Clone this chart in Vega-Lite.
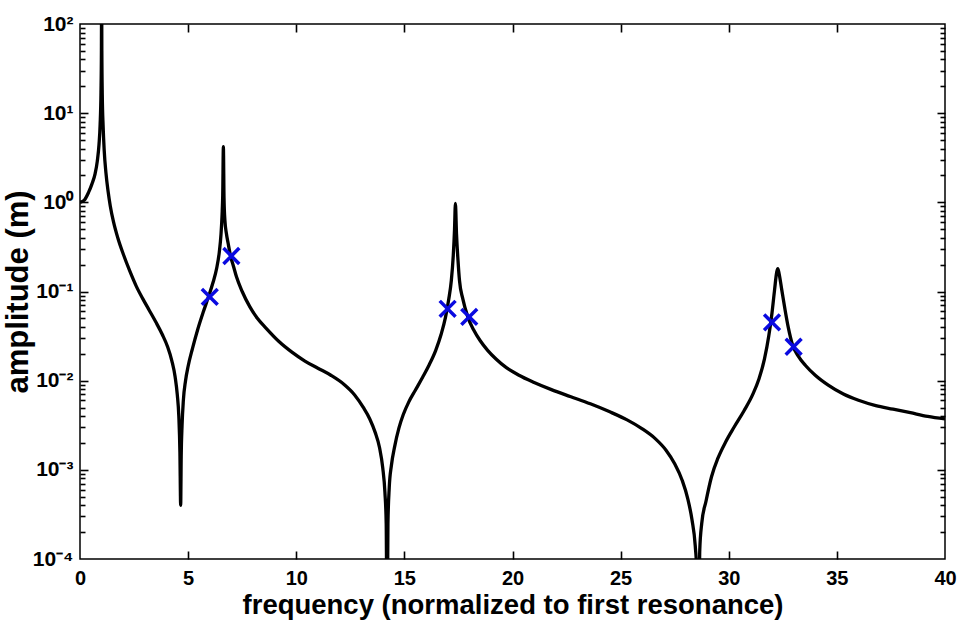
{
  "$schema": "https://vega.github.io/schema/vega-lite/v6.json",
  "width": 865,
  "height": 535,
  "autosize": "none",
  "padding": {"left": 80, "top": 24, "right": 14, "bottom": 68},
  "background": "white",
  "config": {
    "view": {"stroke": "black", "strokeWidth": 1.5},
    "font": "Liberation Sans",
    "axis": {
      "labelFont": "Liberation Sans", "titleFont": "Liberation Sans",
      "labelFontWeight": "bold", "titleFontWeight": "bold",
      "labelColor": "black", "titleColor": "black",
      "tickColor": "black", "tickWidth": 1.6,
      "grid": false, "domain": false
    }
  },
  "datasets": {
    "curve": [
      {"f": 0, "a": 1.0}, {"f": 0.2, "a": 1.06}, {"f": 0.4, "a": 1.3}, {"f": 0.55, "a": 1.6},
      {"f": 0.7, "a": 2.1}, {"f": 0.8, "a": 2.9}, {"f": 0.88, "a": 4.5}, {"f": 0.93, "a": 7.4},
      {"f": 0.97, "a": 17}, {"f": 0.99, "a": 50}, {"f": 1.0, "a": 300}, {"f": 1.01, "a": 50},
      {"f": 1.03, "a": 16}, {"f": 1.07, "a": 7.08}, {"f": 1.12, "a": 3.8}, {"f": 1.2, "a": 2.14},
      {"f": 1.3, "a": 1.32}, {"f": 1.4, "a": 0.912}, {"f": 1.55, "a": 0.603}, {"f": 1.75, "a": 0.398},
      {"f": 2.0, "a": 0.263}, {"f": 2.3, "a": 0.17}, {"f": 2.6, "a": 0.115}, {"f": 2.9, "a": 0.0832},
      {"f": 3.2, "a": 0.0617}, {"f": 3.5, "a": 0.0457}, {"f": 3.8, "a": 0.0331}, {"f": 4.05, "a": 0.024},
      {"f": 4.25, "a": 0.0166}, {"f": 4.4, "a": 0.011}, {"f": 4.5, "a": 0.00692}, {"f": 4.57, "a": 0.00398},
      {"f": 4.62, "a": 0.00158}, {"f": 4.655, "a": 0.0004}, {"f": 4.68, "a": 0.00141}, {"f": 4.72, "a": 0.00316},
      {"f": 4.78, "a": 0.00603}, {"f": 4.88, "a": 0.01}, {"f": 5.0, "a": 0.0145}, {"f": 5.2, "a": 0.0229},
      {"f": 5.45, "a": 0.038}, {"f": 5.7, "a": 0.0589}, {"f": 5.94, "a": 0.0871}, {"f": 6.15, "a": 0.126},
      {"f": 6.32, "a": 0.182}, {"f": 6.44, "a": 0.275}, {"f": 6.52, "a": 0.437}, {"f": 6.57, "a": 0.724},
      {"f": 6.6, "a": 1.2}, {"f": 6.63, "a": 4.2}, {"f": 6.66, "a": 1.12}, {"f": 6.7, "a": 0.631},
      {"f": 6.77, "a": 0.447}, {"f": 6.85, "a": 0.347}, {"f": 6.96, "a": 0.251}, {"f": 7.1, "a": 0.191},
      {"f": 7.24, "a": 0.145}, {"f": 7.5, "a": 0.1}, {"f": 7.85, "a": 0.0676}, {"f": 8.2, "a": 0.0501},
      {"f": 8.6, "a": 0.0389}, {"f": 9.2, "a": 0.0275}, {"f": 9.8, "a": 0.0209}, {"f": 10.4, "a": 0.0166},
      {"f": 11.0, "a": 0.0138}, {"f": 11.6, "a": 0.0115}, {"f": 12.2, "a": 0.00912}, {"f": 12.7, "a": 0.00692},
      {"f": 13.1, "a": 0.00501}, {"f": 13.4, "a": 0.00372}, {"f": 13.65, "a": 0.00263}, {"f": 13.85, "a": 0.00178},
      {"f": 14.0, "a": 0.00105}, {"f": 14.1, "a": 0.00056}, {"f": 14.16, "a": 0.00025}, {"f": 14.2, "a": 0.00001},
      {"f": 14.24, "a": 0.00025}, {"f": 14.3, "a": 0.00063}, {"f": 14.4, "a": 0.00112}, {"f": 14.55, "a": 0.00182},
      {"f": 14.75, "a": 0.00295}, {"f": 14.95, "a": 0.00417}, {"f": 15.2, "a": 0.00575}, {"f": 15.5, "a": 0.00776},
      {"f": 15.85, "a": 0.011}, {"f": 16.15, "a": 0.0151}, {"f": 16.45, "a": 0.0219}, {"f": 16.7, "a": 0.0331},
      {"f": 16.9, "a": 0.0513}, {"f": 17.05, "a": 0.0813}, {"f": 17.17, "a": 0.132}, {"f": 17.26, "a": 0.251},
      {"f": 17.32, "a": 0.501}, {"f": 17.36, "a": 0.97}, {"f": 17.41, "a": 0.447}, {"f": 17.48, "a": 0.224},
      {"f": 17.55, "a": 0.132}, {"f": 17.7, "a": 0.0832}, {"f": 17.94, "a": 0.0513}, {"f": 18.2, "a": 0.0372},
      {"f": 18.5, "a": 0.0282}, {"f": 18.85, "a": 0.0219}, {"f": 19.25, "a": 0.0174}, {"f": 19.7, "a": 0.0141},
      {"f": 20.3, "a": 0.0115}, {"f": 21.0, "a": 0.00955}, {"f": 21.8, "a": 0.00794}, {"f": 22.7, "a": 0.00661},
      {"f": 23.6, "a": 0.0055}, {"f": 24.5, "a": 0.00447}, {"f": 25.3, "a": 0.00363}, {"f": 26.0, "a": 0.00288},
      {"f": 26.6, "a": 0.00224}, {"f": 27.1, "a": 0.00166}, {"f": 27.5, "a": 0.00117}, {"f": 27.85, "a": 0.00076},
      {"f": 28.1, "a": 0.00048}, {"f": 28.3, "a": 0.000275}, {"f": 28.45, "a": 0.000141}, {"f": 28.55, "a": 0.00005},
      {"f": 28.6, "a": 0.00001}, {"f": 28.66, "a": 0.000126}, {"f": 28.75, "a": 0.00025}, {"f": 28.95, "a": 0.000447},
      {"f": 29.2, "a": 0.000832}, {"f": 29.5, "a": 0.00135}, {"f": 29.85, "a": 0.00204}, {"f": 30.25, "a": 0.00302},
      {"f": 30.7, "a": 0.00457}, {"f": 31.1, "a": 0.00692}, {"f": 31.4, "a": 0.0105}, {"f": 31.65, "a": 0.0174},
      {"f": 31.85, "a": 0.0316}, {"f": 32.0, "a": 0.0575}, {"f": 32.12, "a": 0.105}, {"f": 32.22, "a": 0.166},
      {"f": 32.27, "a": 0.18}, {"f": 32.33, "a": 0.158}, {"f": 32.45, "a": 0.105}, {"f": 32.6, "a": 0.0631},
      {"f": 32.75, "a": 0.0398}, {"f": 32.95, "a": 0.0251}, {"f": 33.2, "a": 0.0191}, {"f": 33.55, "a": 0.0148},
      {"f": 34.0, "a": 0.0115}, {"f": 34.6, "a": 0.00891}, {"f": 35.3, "a": 0.00708}, {"f": 36.0, "a": 0.00603},
      {"f": 36.8, "a": 0.00525}, {"f": 37.6, "a": 0.00479}, {"f": 38.4, "a": 0.00437}, {"f": 39.2, "a": 0.00398},
      {"f": 40, "a": 0.00372}
    ],
    "marks": [
      {"f": 6, "a": 0.087}, {"f": 7, "a": 0.25}, {"f": 17, "a": 0.064},
      {"f": 18, "a": 0.052}, {"f": 32, "a": 0.045}, {"f": 33, "a": 0.024}
    ]
  },
  "resolve": {"axis": {"x": "independent", "y": "independent"}},
  "layer": [
    {
      "data": {"name": "curve"},
      "mark": {"type": "line", "color": "black", "strokeWidth": 3.3, "clip": true, "interpolate": "monotone"},
      "encoding": {
        "x": {"field": "f", "type": "quantitative",
          "scale": {"domain": [0, 40], "nice": false, "zero": false},
          "axis": {"orient": "bottom", "ticks": false, "values": [0, 5, 10, 15, 20, 25, 30, 35, 40],
            "labelFontSize": 20, "labelPadding": 9, "labelFlush": false,
            "title": "frequency (normalized to first resonance)", "titleFontSize": 27.5, "titlePadding": 3}},
        "y": {"field": "a", "type": "quantitative",
          "scale": {"type": "log", "domain": [0.0001, 100], "nice": false},
          "axis": {"orient": "left", "ticks": false, "values": [0.0001, 0.001, 0.01, 0.1, 1, 10, 100],
            "labelExpr": "datum.value >= 99 ? '10²' : datum.value >= 9.9 ? '10¹' : datum.value >= 0.99 ? '10⁰' : datum.value >= 0.099 ? '10⁻¹' : datum.value >= 0.0099 ? '10⁻²' : datum.value >= 0.00099 ? '10⁻³' : '10⁻⁴'",
            "labelFontSize": 21, "labelPadding": 7, "labelFlush": false,
            "title": "amplitude (m)", "titleFontSize": 31, "titlePadding": -2}}
      }
    },
    {
      "data": {"name": "marks"},
      "mark": {"type": "point", "shape": "M-1,-1L1,1M-1,1L1,-1", "size": 250, "strokeWidth": 3.5, "filled": false, "color": "#0a0ae0", "opacity": 1},
      "encoding": {
        "x": {"field": "f", "type": "quantitative",
          "scale": {"domain": [0, 40], "nice": false, "zero": false},
          "axis": {"orient": "top", "offset": -535, "ticks": true, "tickSize": 8, "labels": false, "title": null,
            "values": [5, 10, 15, 20, 25, 30, 35]}},
        "y": {"field": "a", "type": "quantitative",
          "scale": {"type": "log", "domain": [0.0001, 100], "nice": false},
          "axis": {"orient": "right", "offset": -865, "ticks": true, "tickSize": 8, "labels": false, "title": null,
            "values": [0.001, 0.01, 0.1, 1, 10]}}
      }
    },
    {
      "data": {"name": "marks"},
      "mark": {"type": "point", "opacity": 0},
      "encoding": {
        "x": {"field": "f", "type": "quantitative",
          "scale": {"domain": [0, 40], "nice": false, "zero": false},
          "axis": {"orient": "bottom", "offset": -535, "ticks": true, "tickSize": 8, "labels": false, "title": null,
            "values": [5, 10, 15, 20, 25, 30, 35]}},
        "y": {"field": "a", "type": "quantitative",
          "scale": {"type": "log", "domain": [0.0001, 100], "nice": false},
          "axis": {"orient": "right", "offset": -865, "ticks": true, "tickSize": 5, "labels": false, "title": null,
            "values": [0.0002, 0.0003, 0.0004, 0.0005, 0.0006, 0.0007, 0.0008, 0.0009, 0.002, 0.003, 0.004, 0.005, 0.006, 0.007, 0.008, 0.009, 0.02, 0.03, 0.04, 0.05, 0.06, 0.07, 0.08, 0.09, 0.2, 0.3, 0.4, 0.5, 0.6, 0.7, 0.8, 0.9, 2, 3, 4, 5, 6, 7, 8, 9, 20, 30, 40, 50, 60, 70, 80, 90]}}
      }
    },
    {
      "data": {"name": "marks"},
      "mark": {"type": "point", "opacity": 0},
      "encoding": {
        "x": {"field": "f", "type": "quantitative",
          "scale": {"domain": [0, 40], "nice": false, "zero": false}, "axis": null},
        "y": {"field": "a", "type": "quantitative",
          "scale": {"type": "log", "domain": [0.0001, 100], "nice": false},
          "axis": {"orient": "left", "offset": -865, "ticks": true, "tickSize": 8, "labels": false, "title": null,
            "values": [0.001, 0.01, 0.1, 1, 10]}}
      }
    },
    {
      "data": {"name": "marks"},
      "mark": {"type": "point", "opacity": 0},
      "encoding": {
        "x": {"field": "f", "type": "quantitative",
          "scale": {"domain": [0, 40], "nice": false, "zero": false}, "axis": null},
        "y": {"field": "a", "type": "quantitative",
          "scale": {"type": "log", "domain": [0.0001, 100], "nice": false},
          "axis": {"orient": "left", "offset": -865, "ticks": true, "tickSize": 5, "labels": false, "title": null,
            "values": [0.0002, 0.0003, 0.0004, 0.0005, 0.0006, 0.0007, 0.0008, 0.0009, 0.002, 0.003, 0.004, 0.005, 0.006, 0.007, 0.008, 0.009, 0.02, 0.03, 0.04, 0.05, 0.06, 0.07, 0.08, 0.09, 0.2, 0.3, 0.4, 0.5, 0.6, 0.7, 0.8, 0.9, 2, 3, 4, 5, 6, 7, 8, 9, 20, 30, 40, 50, 60, 70, 80, 90]}}
      }
    }
  ]
}
